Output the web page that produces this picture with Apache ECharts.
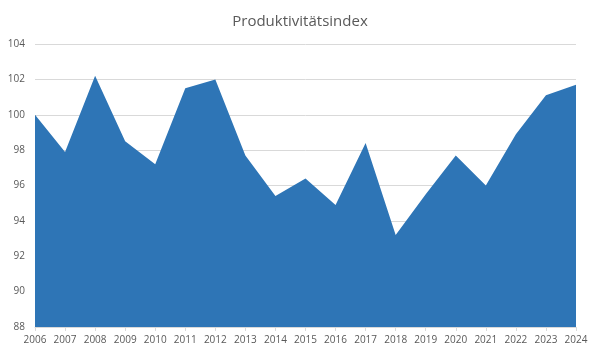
<!DOCTYPE html>
<html><head><meta charset="utf-8">
<script src="https://cdn.jsdelivr.net/npm/echarts@6/dist/echarts.min.js"></script>
<style>html,body{margin:0;padding:0;background:#fff}#c{width:600px;height:356px}</style>
</head><body><div id="c"></div>
<script>
const title = "Produktivitätsindex";
const years = ["2006","2007","2008","2009","2010","2011","2012","2013","2014","2015","2016","2017","2018","2019","2020","2021","2022","2023","2024"];
const values = [100.0, 97.9, 102.2, 98.5, 97.2, 101.5, 102.0, 97.7, 95.4, 96.4, 94.9, 98.4, 93.2, 95.5, 97.7, 96.0, 98.9, 101.1, 101.7];
const yMin = 88, yMax = 104, yStep = 2;

const chart = echarts.init(document.getElementById('c'), null, {renderer:'canvas'});
chart.setOption({
  animation:false,
  title:{text:title, left:'center', top:9, textStyle:{fontFamily:'Open Sans', fontSize:15, fontWeight:'normal', color:'#595959'}},
  grid:{left:35, right:24, top:44, bottom:29},
  xAxis:{type:'category', data:years, boundaryGap:false,
    axisLine:{lineStyle:{color:'#d9d9d9'}},
    axisTick:{show:true, lineStyle:{color:'#d9d9d9'}, length:4},
    axisLabel:{color:'#595959', fontFamily:'Open Sans', fontSize:10, margin:8, interval:0}},
  yAxis:{type:'value', min:yMin, max:yMax, interval:yStep,
    axisLine:{show:false}, axisTick:{show:false},
    splitLine:{lineStyle:{color:'#d9d9d9'}},
    axisLabel:{color:'#595959', fontFamily:'Open Sans', fontSize:10, margin:10}},
  series:[{type:'line', data:values, symbol:'none', lineStyle:{width:0, color:'#2E75B6'},
    areaStyle:{color:'#2E75B6', opacity:1, origin:'start'}}]
});
</script></body></html>
